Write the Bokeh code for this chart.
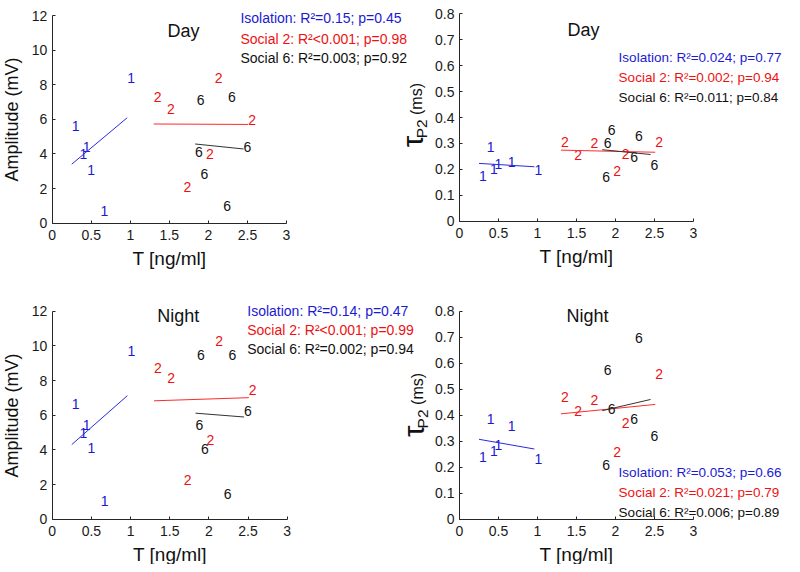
import numpy as np
from bokeh.plotting import figure
from bokeh.layouts import column, row
from bokeh.models import Label, Range1d, FixedTicker, ColumnDataSource
from bokeh.embed import file_html
from bokeh.resources import INLINE
from bokeh.core.properties import value

# ---------------- data ----------------
groups = ["Isolation", "Social 2", "Social 6"]
group_marks = ["1", "2", "6"]

t_iso = [0.25, 0.35, 0.39, 0.45, 0.62, 0.96]
t_s2 = [1.30, 1.47, 1.68, 1.97, 2.08, 2.51]
t_s6 = [1.83, 1.85, 1.90, 2.19, 2.25, 2.45]

amp_day_iso = [5.59, 4.00, 4.39, 3.09, 0.73, 8.40]
amp_day_s2 = [7.28, 6.61, 2.08, 4.01, 8.40, 5.94]
amp_day_s6 = [4.10, 7.13, 2.86, 0.97, 7.28, 4.43]

tau_day_iso = [0.176, 0.288, 0.200, 0.219, 0.229, 0.198]
tau_day_s2 = [0.305, 0.257, 0.301, 0.193, 0.260, 0.307]
tau_day_s6 = [0.170, 0.301, 0.350, 0.247, 0.327, 0.215]

amp_night_iso = [6.62, 4.96, 5.41, 4.12, 1.04, 9.73]
amp_night_s2 = [8.74, 8.16, 2.27, 4.58, 10.28, 7.43]
amp_night_s6 = [5.41, 9.50, 4.06, 1.43, 9.50, 6.27]

tau_night_iso = [0.238, 0.386, 0.264, 0.287, 0.357, 0.232]
tau_night_s2 = [0.469, 0.415, 0.457, 0.258, 0.369, 0.559]
tau_night_s6 = [0.207, 0.575, 0.425, 0.386, 0.696, 0.319]

stats_amp_day = ["R\u00b2=0.15; p=0.45", "R\u00b2<0.001; p=0.98", "R\u00b2=0.003; p=0.92"]
stats_tau_day = ["R\u00b2=0.024; p=0.77", "R\u00b2=0.002; p=0.94", "R\u00b2=0.011; p=0.84"]
stats_amp_night = ["R\u00b2=0.14; p=0.47", "R\u00b2<0.001; p=0.99", "R\u00b2=0.002; p=0.94"]
stats_tau_night = ["R\u00b2=0.053; p=0.66", "R\u00b2=0.021; p=0.79", "R\u00b2=0.006; p=0.89"]

x_ticks = [0, 0.5, 1, 1.5, 2, 2.5, 3]
x_tick_labels = ["0", "0.5", "1", "1.5", "2", "2.5", "3"]
amp_ticks = [0, 2, 4, 6, 8, 10, 12]
amp_tick_labels = ["0", "2", "4", "6", "8", "10", "12"]
tau_ticks = [0, 0.1, 0.2, 0.3, 0.4, 0.5, 0.6, 0.7, 0.8]
tau_tick_labels = ["0", "0.1", "0.2", "0.3", "0.4", "0.5", "0.6", "0.7", "0.8"]

x_label = "T [ng/ml]"
amp_label = "Amplitude (mV)"
tau_label_parts = ["\u03c4", "P2", "(ms)"]

# ---------------- style ----------------
FONT = "Liberation Sans"
text_colors = ["#1a1ad2", "#ee1111", "#111111"]
line_colors = ["#2a2ae0", "#ff2a2a", "#333333"]
AX = "#262626"
X_MAX = 3


def make_panel(width, height, rect, y_max, y_ticks, y_tick_labels, y_label):
    # rect = pixel box (left, right, top, bottom) of the axes inside the canvas;
    # the frame fills the whole canvas so that texts may sit outside the axes box
    left, right, top, bottom = rect
    xs = X_MAX / (right - left)
    ys = y_max / (bottom - top)
    p = figure(width=width, height=height, output_backend="svg", toolbar_location=None,
               x_range=Range1d(-left * xs, X_MAX + (width - right) * xs),
               y_range=Range1d(-(height - bottom) * ys, y_max + top * ys),
               min_border=0, min_border_top=0, min_border_right=0,
               min_border_bottom=0, min_border_left=0)
    p.outline_line_color = None
    p.grid.visible = False
    p.background_fill_color = "white"
    p.border_fill_color = "white"
    p.xaxis.fixed_location = 0
    p.yaxis.fixed_location = 0
    p.xaxis.bounds = (0, X_MAX)
    p.yaxis.bounds = (0, y_max)
    for ax, ticks, labels in ((p.xaxis[0], x_ticks, x_tick_labels),
                              (p.yaxis[0], y_ticks, y_tick_labels)):
        ax.ticker = FixedTicker(ticks=ticks)
        ax.major_label_overrides = {t: l for t, l in zip(ticks, labels)}
        ax.major_tick_in = 3
        ax.major_tick_out = 0
        ax.minor_tick_line_color = None
        ax.axis_line_color = AX
        ax.major_tick_line_color = AX
        ax.major_label_text_font = FONT
        ax.major_label_text_font_size = "14px"
        ax.major_label_text_color = "#1a1a1a"
        ax.axis_label_text_font = FONT
        ax.axis_label_text_font_style = "normal"
        ax.axis_label_text_color = "#111111"
    p.xaxis.major_label_standoff = 7
    p.yaxis.major_label_standoff = 5
    p.xaxis.axis_label = x_label
    p.xaxis.axis_label_text_font_size = "19px"
    p.xaxis.axis_label_standoff = 4
    if y_label:
        p.yaxis.axis_label = y_label
        p.yaxis.axis_label_text_font_size = "18px"
        p.yaxis.axis_label_standoff = 7
    return p


def draw_groups(p, xs, ys):
    for i in range(3):
        src = ColumnDataSource(dict(x=xs[i], y=ys[i], t=[group_marks[i]] * len(xs[i])))
        p.text(x="x", y="y", text="t", source=src, text_color=text_colors[i],
               text_font=value(FONT), text_font_size="14px",
               text_align="left", text_baseline="middle")
        slope, icpt = np.polyfit(xs[i], ys[i], 1)
        lx = [min(xs[i]), max(xs[i])]
        p.line(x=lx, y=[slope * v + icpt for v in lx], line_color=line_colors[i], line_width=1)


def add_stats(p, x, ys, stats, fs="14px"):
    for i in range(3):
        p.add_layout(Label(x=x, y=ys[i], text=f"{groups[i]}: {stats[i]}",
                           text_color=text_colors[i], text_font=FONT,
                           text_font_size=fs, text_align="left",
                           text_baseline="alphabetic"))


def add_title(p, x, y, t):
    p.add_layout(Label(x=x, y=y, text=t, text_color="#111111", text_font=FONT,
                       text_font_size="18px", text_align="center", text_baseline="alphabetic"))


def add_tau_label(p, xs, ys):
    # rotated label "τP2 (ms)" of the neighbouring panel; each part is anchored
    # at its upper end (text runs bottom-to-top)
    sizes = ["29px", "15.5px", "16px"]
    for t, fs, x, y in zip(tau_label_parts, sizes, xs, ys):
        p.add_layout(Label(x=x, y=y, text=t, angle=np.pi / 2, text_color="#111111",
                           text_font=FONT, text_font_size=fs, text_align="right",
                           text_baseline="alphabetic"))


all_x = [t_iso, t_s2, t_s6]

# top-left: amplitude, day
p1 = make_panel(432, 287, (51.7, 286, 15, 222.7), 12, amp_ticks, amp_tick_labels, amp_label)
draw_groups(p1, all_x, [amp_day_iso, amp_day_s2, amp_day_s6])
add_stats(p1, 2.41, [11.83, 10.67, 9.52], stats_amp_day)
add_title(p1, 1.68, 11.13, "Day")
add_tau_label(p1, [4.62, 4.73, 4.66], [5.05, 6.00, 8.10])

# top-right: tau, day
p2 = make_panel(360, 287, (27, 261, 13.3, 220.7), 0.8, tau_ticks, tau_tick_labels, None)
draw_groups(p2, all_x, [tau_day_iso, tau_day_s2, tau_day_s6])
add_stats(p2, 2.04, [0.630, 0.555, 0.478], stats_tau_day, "13.5px")
add_title(p2, 1.59, 0.736, "Day")

# bottom-left: amplitude, night
p3 = make_panel(432, 277, (51.7, 286.7, 23.7, 231.7), 12, amp_ticks, amp_tick_labels, amp_label)
draw_groups(p3, all_x, [amp_night_iso, amp_night_s2, amp_night_s6])
add_stats(p3, 2.49, [12.04, 10.93, 9.83], stats_amp_night)
add_title(p3, 1.61, 11.70, "Night")
add_tau_label(p3, [4.62, 4.73, 4.66], [5.41, 6.33, 8.44])

# bottom-right: tau, night
p4 = make_panel(360, 277, (27, 261, 23.7, 231.7), 0.8, tau_ticks, tau_tick_labels, None)
draw_groups(p4, all_x, [tau_night_iso, tau_night_s2, tau_night_s6])
add_stats(p4, 2.04, [0.181, 0.104, 0.027], stats_tau_night, "13.5px")
add_title(p4, 1.64, 0.783, "Night")

layout = column(row(p1, p2), row(p3, p4))
open("out.html", "w").write(file_html(layout, INLINE))
